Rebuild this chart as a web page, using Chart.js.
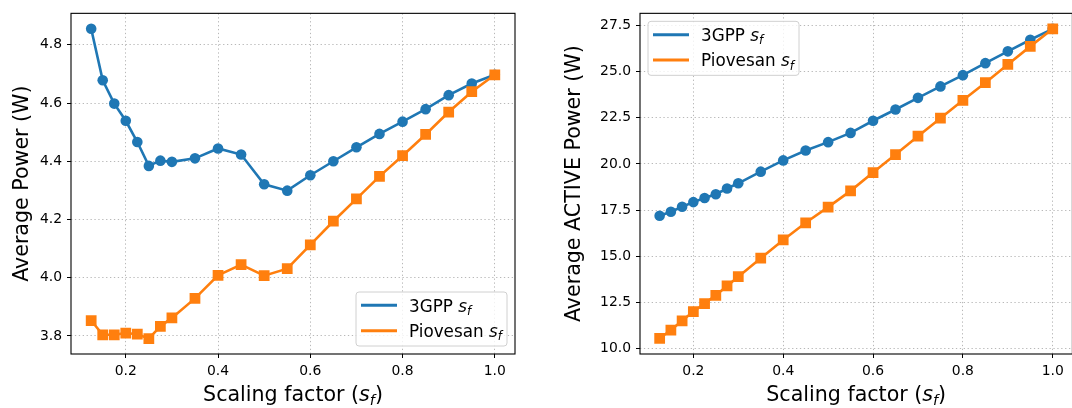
<!DOCTYPE html>
<html>
<head>
<meta charset="utf-8">
<script src="https://cdn.jsdelivr.net/npm/chart.js@4"></script>
<style>
  body { margin: 0; width: 1072px; height: 408px; overflow: hidden; background: #fff; position: relative; }
  #leftBox { position: absolute; left: 0; top: 0; width: 530px; height: 408px; }
  #rightBox { position: absolute; left: 530px; top: 0; width: 550px; height: 408px; }
</style>
</head>
<body>
<div id="leftBox"><canvas id="avgChart" width="530" height="408"></canvas></div>
<div id="rightBox"><canvas id="activeChart" width="550" height="408"></canvas></div>
<script>
// scaling factor values (x)
const scaling = [0.125, 0.15, 0.175, 0.2, 0.225, 0.25, 0.275, 0.3, 0.35, 0.4, 0.45, 0.5,
                 0.55, 0.6, 0.65, 0.7, 0.75, 0.8, 0.85, 0.9, 0.95, 1.0];

// average power (W)
const gppAvg = [4.855, 4.678, 4.598, 4.539, 4.466, 4.384, 4.402, 4.398, 4.410, 4.444, 4.423, 4.321,
                4.299, 4.352, 4.400, 4.448, 4.494, 4.536, 4.579, 4.627, 4.667, 4.697];
const piovesanAvg = [3.853, 3.804, 3.804, 3.810, 3.806, 3.791, 3.833, 3.862, 3.929, 4.008, 4.045, 4.007,
                     4.031, 4.113, 4.194, 4.271, 4.348, 4.419, 4.492, 4.569, 4.639, 4.697];

// average ACTIVE power (W)
const gppActive = [17.19, 17.41, 17.68, 17.93, 18.15, 18.36, 18.67, 18.95, 19.58, 20.19, 20.73, 21.18,
                   21.68, 22.34, 22.95, 23.58, 24.20, 24.81, 25.46, 26.10, 26.73, 27.32];
const piovesanActive = [10.54, 11.00, 11.50, 12.00, 12.43, 12.88, 13.39, 13.89, 14.89, 15.88, 16.81, 17.66,
                        18.54, 19.53, 20.51, 21.50, 22.48, 23.45, 24.40, 25.39, 26.37, 27.32];

// tick labels
const xTicks = [0.2, 0.4, 0.6, 0.8, 1.0];
const avgTicks = [3.8, 4.0, 4.2, 4.4, 4.6, 4.8];
const activeTicks = [10.0, 12.5, 15.0, 17.5, 20.0, 22.5, 25.0, 27.5];

const seriesNames = ['3GPP', 'Piovesan'];
const BLUE = '#1f77b4', ORANGE = '#ff7f0e';
const FONT = '"DejaVu Sans", "Liberation Sans", sans-serif';

// text with italic s and subscript f
function richText(ctx, parts, x, y, size, align) {
  const fontOf = p => (p.it ? 'italic ' : '') + (p.sub ? size * 0.7 : size) + 'px ' + FONT;
  let w = 0;
  parts.forEach(p => { ctx.font = fontOf(p); w += ctx.measureText(p.t).width; });
  let cx = align === 'center' ? x - w / 2 : x;
  ctx.textAlign = 'left';
  ctx.textBaseline = 'alphabetic';
  parts.forEach(p => {
    ctx.font = fontOf(p);
    ctx.fillText(p.t, cx, y + (p.sub ? size * 0.2 : 0));
    cx += ctx.measureText(p.t).width;
  });
}

const extras = {
  id: 'extras',
  afterDatasetsDraw(chart, args, opts) {
    const ctx = chart.ctx;
    const a = chart.chartArea;
    ctx.save();
    // spines
    ctx.strokeStyle = '#000';
    ctx.lineWidth = 1.1;
    ctx.strokeRect(a.left, a.top, a.right - a.left, a.bottom - a.top);
    ctx.fillStyle = '#000';
    // x title
    richText(ctx, [{t: 'Scaling factor ('}, {t: 's', it: true}, {t: 'f', it: true, sub: true}, {t: ')'}],
      (a.left + a.right) / 2, 401, 20.6, 'center');
    // y title
    ctx.translate(opts.yTitleX, (a.top + a.bottom) / 2);
    ctx.rotate(-Math.PI / 2);
    ctx.font = '20.6px ' + FONT;
    ctx.textAlign = 'center';
    ctx.textBaseline = 'middle';
    ctx.fillText(opts.yTitle, 0, 0);
    ctx.restore();

    // legend
    ctx.save();
    const bw = 151, bh = 54;
    const bx = opts.legend === 'lower right' ? a.right - 8 - bw : a.left + 8;
    const by = opts.legend === 'lower right' ? a.bottom - 8 - bh : a.top + 8;
    ctx.beginPath();
    ctx.roundRect(bx, by, bw, bh, 3);
    ctx.fillStyle = 'rgba(255,255,255,0.8)';
    ctx.fill();
    ctx.strokeStyle = '#d0d0d0';
    ctx.lineWidth = 1;
    ctx.stroke();
    [BLUE, ORANGE].forEach((c, i) => {
      const ly = by + 13.3 + i * 25.4;
      ctx.strokeStyle = c;
      ctx.lineWidth = 3;
      ctx.beginPath();
      ctx.moveTo(bx + 5, ly);
      ctx.lineTo(bx + 41, ly);
      ctx.stroke();
      ctx.fillStyle = '#000';
      richText(ctx, [{t: seriesNames[i] + ' '}, {t: 's', it: true}, {t: 'f', it: true, sub: true}],
        bx + 53, ly + 6.2, 16.8, 'left');
    });
    ctx.restore();
  }
};

function makeChart(id, gpp, piov, yMin, yMax, yTicks, axisWidth, padRight, yTitle, yTitleX, legend) {
  const pts = arr => arr.map((v, i) => ({x: scaling[i], y: v}));
  const tickFont = {family: FONT, size: 13.9};
  return new Chart(document.getElementById(id), {
    type: 'line',
    data: {
      datasets: [{
        label: seriesNames[0],
        data: pts(gpp),
        borderColor: BLUE,
        backgroundColor: BLUE,
        borderWidth: 2.6,
        pointStyle: 'circle',
        pointRadius: 5.3,
        pointBorderWidth: 0,
        order: 1
      }, {
        label: seriesNames[1],
        data: pts(piov),
        borderColor: ORANGE,
        backgroundColor: ORANGE,
        borderWidth: 2.6,
        pointStyle: 'rect',
        pointRadius: 7.6,
        pointBorderWidth: 0,
        order: 0
      }]
    },
    options: {
      responsive: false,
      animation: false,
      layout: {padding: {top: 10.7, right: padRight, bottom: 0, left: 0}},
      plugins: {
        legend: {display: false},
        tooltip: {enabled: false},
        extras: {yTitle: yTitle, yTitleX: yTitleX, legend: legend}
      },
      scales: {
        x: {
          type: 'linear',
          min: 0.08125,
          max: 1.04375,
          afterBuildTicks: s => { s.ticks = xTicks.map(v => ({value: v})); },
          afterFit: s => { s.height = 54; },
          grid: {color: '#b0b0b0', lineWidth: 0.9, tickLength: 4, tickColor: '#000', tickWidth: 1},
          border: {display: false, dash: [1.3, 2.6]},
          ticks: {color: '#000', font: tickFont, padding: 5, maxRotation: 0,
                  callback: v => v.toFixed(1)}
        },
        y: {
          min: yMin,
          max: yMax,
          afterBuildTicks: s => { s.ticks = yTicks.map(v => ({value: v})); },
          afterFit: s => { s.width = axisWidth; },
          grid: {color: '#b0b0b0', lineWidth: 0.9, tickLength: 4, tickColor: '#000', tickWidth: 1},
          border: {display: false, dash: [1.3, 2.6]},
          ticks: {color: '#000', font: tickFont, padding: 5,
                  callback: v => v.toFixed(1)}
        }
      }
    },
    plugins: [extras]
  });
}

makeChart('avgChart', gppAvg, piovesanAvg, 3.738, 4.908, avgTicks, 71, 15,
  'Average Power (W)', 23, 'lower right');
makeChart('activeChart', gppActive, piovesanActive, 9.70, 28.16, activeTicks, 110, 5,
  'Average ACTIVE Power (W)', 45, 'upper left');
</script>
</body>
</html>
